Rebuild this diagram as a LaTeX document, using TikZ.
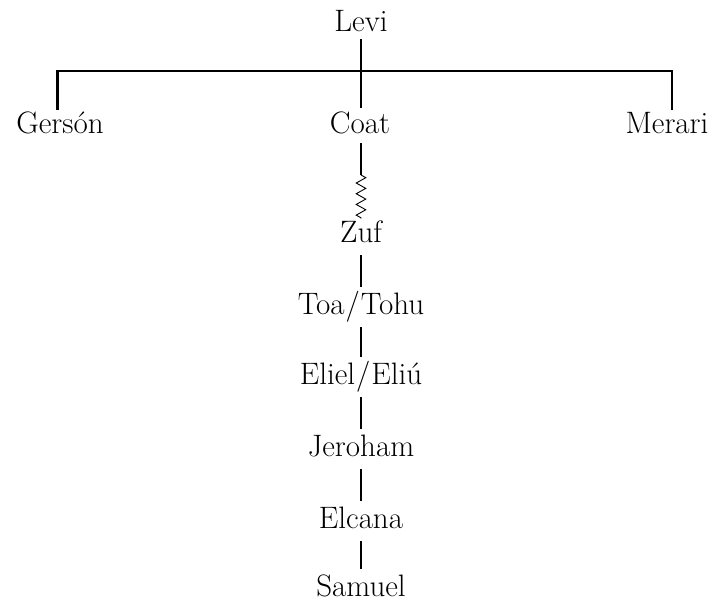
\documentclass[tikz,border=0pt]{standalone}
\usetikzlibrary{decorations.pathmorphing}

\tikzset{
  person/.style={font=\fontsize{31}{37}\selectfont, inner sep=0pt,
                 text height=20pt, text depth=0pt, anchor=south},
  link/.style={line width=2.3pt},
  descent/.style={line width=0.9pt, decorate,
                  decoration={zigzag, segment length=10.7pt, amplitude=4.8pt}}
}

\begin{document}
\begin{tikzpicture}[x=1pt, y=-1pt]
  \useasboundingbox (0,0) rectangle (714,603);

  % family members (positions are text baselines)
  \node[person] (levi)    at (361,32)  {Levi};
  \node[person] (gerson)  at (60,134)  {Gers\'on};
  \node[person] (coat)    at (360,134) {Coat};
  \node[person] (merari)  at (667,134) {Merari};
  \node[person] (zuf)     at (361,243) {Zuf};
  \node[person] (toa)     at (361,315) {Toa\kern1pt/\kern1pt Tohu};
  \node[person] (eliel)   at (361,385) {Eliel\kern1pt/\kern1pt Eli\'u};
  \node[person] (jeroham) at (361,457) {Jeroham};
  \node[person] (elcana)  at (361,529) {Elcana};
  \node[person] (samuel)  at (361,597) {Samuel};

  % bar joining the three sons of Levi
  \coordinate (barL) at (57.5,71);
  \coordinate (barR) at (672,71);
  \coordinate (stem) at (361,71);
  \draw[link, shorten <=4pt, shorten >=4pt]
    (gerson.north -| barL) -- (barL) -- (barR) -- (merari.north -| barR);
  \draw[link, shorten <=7pt, shorten >=6pt] (levi.south -| stem) -- (coat.north -| stem);

  % Coat to Zuf: several generations omitted
  \coordinate (gap) at (361,175);
  \draw[link, shorten <=9pt] (coat.south -| gap) -- (gap);
  \draw[descent] (gap) -- ([yshift=4pt]zuf.north);

  % direct line of descent
  \foreach \a/\b in {zuf/toa, toa/eliel, eliel/jeroham, jeroham/elcana, elcana/samuel}
    \draw[link, shorten <=12pt, shorten >=8pt] (\a.south) -- (\b.north);
\end{tikzpicture}
\end{document}
